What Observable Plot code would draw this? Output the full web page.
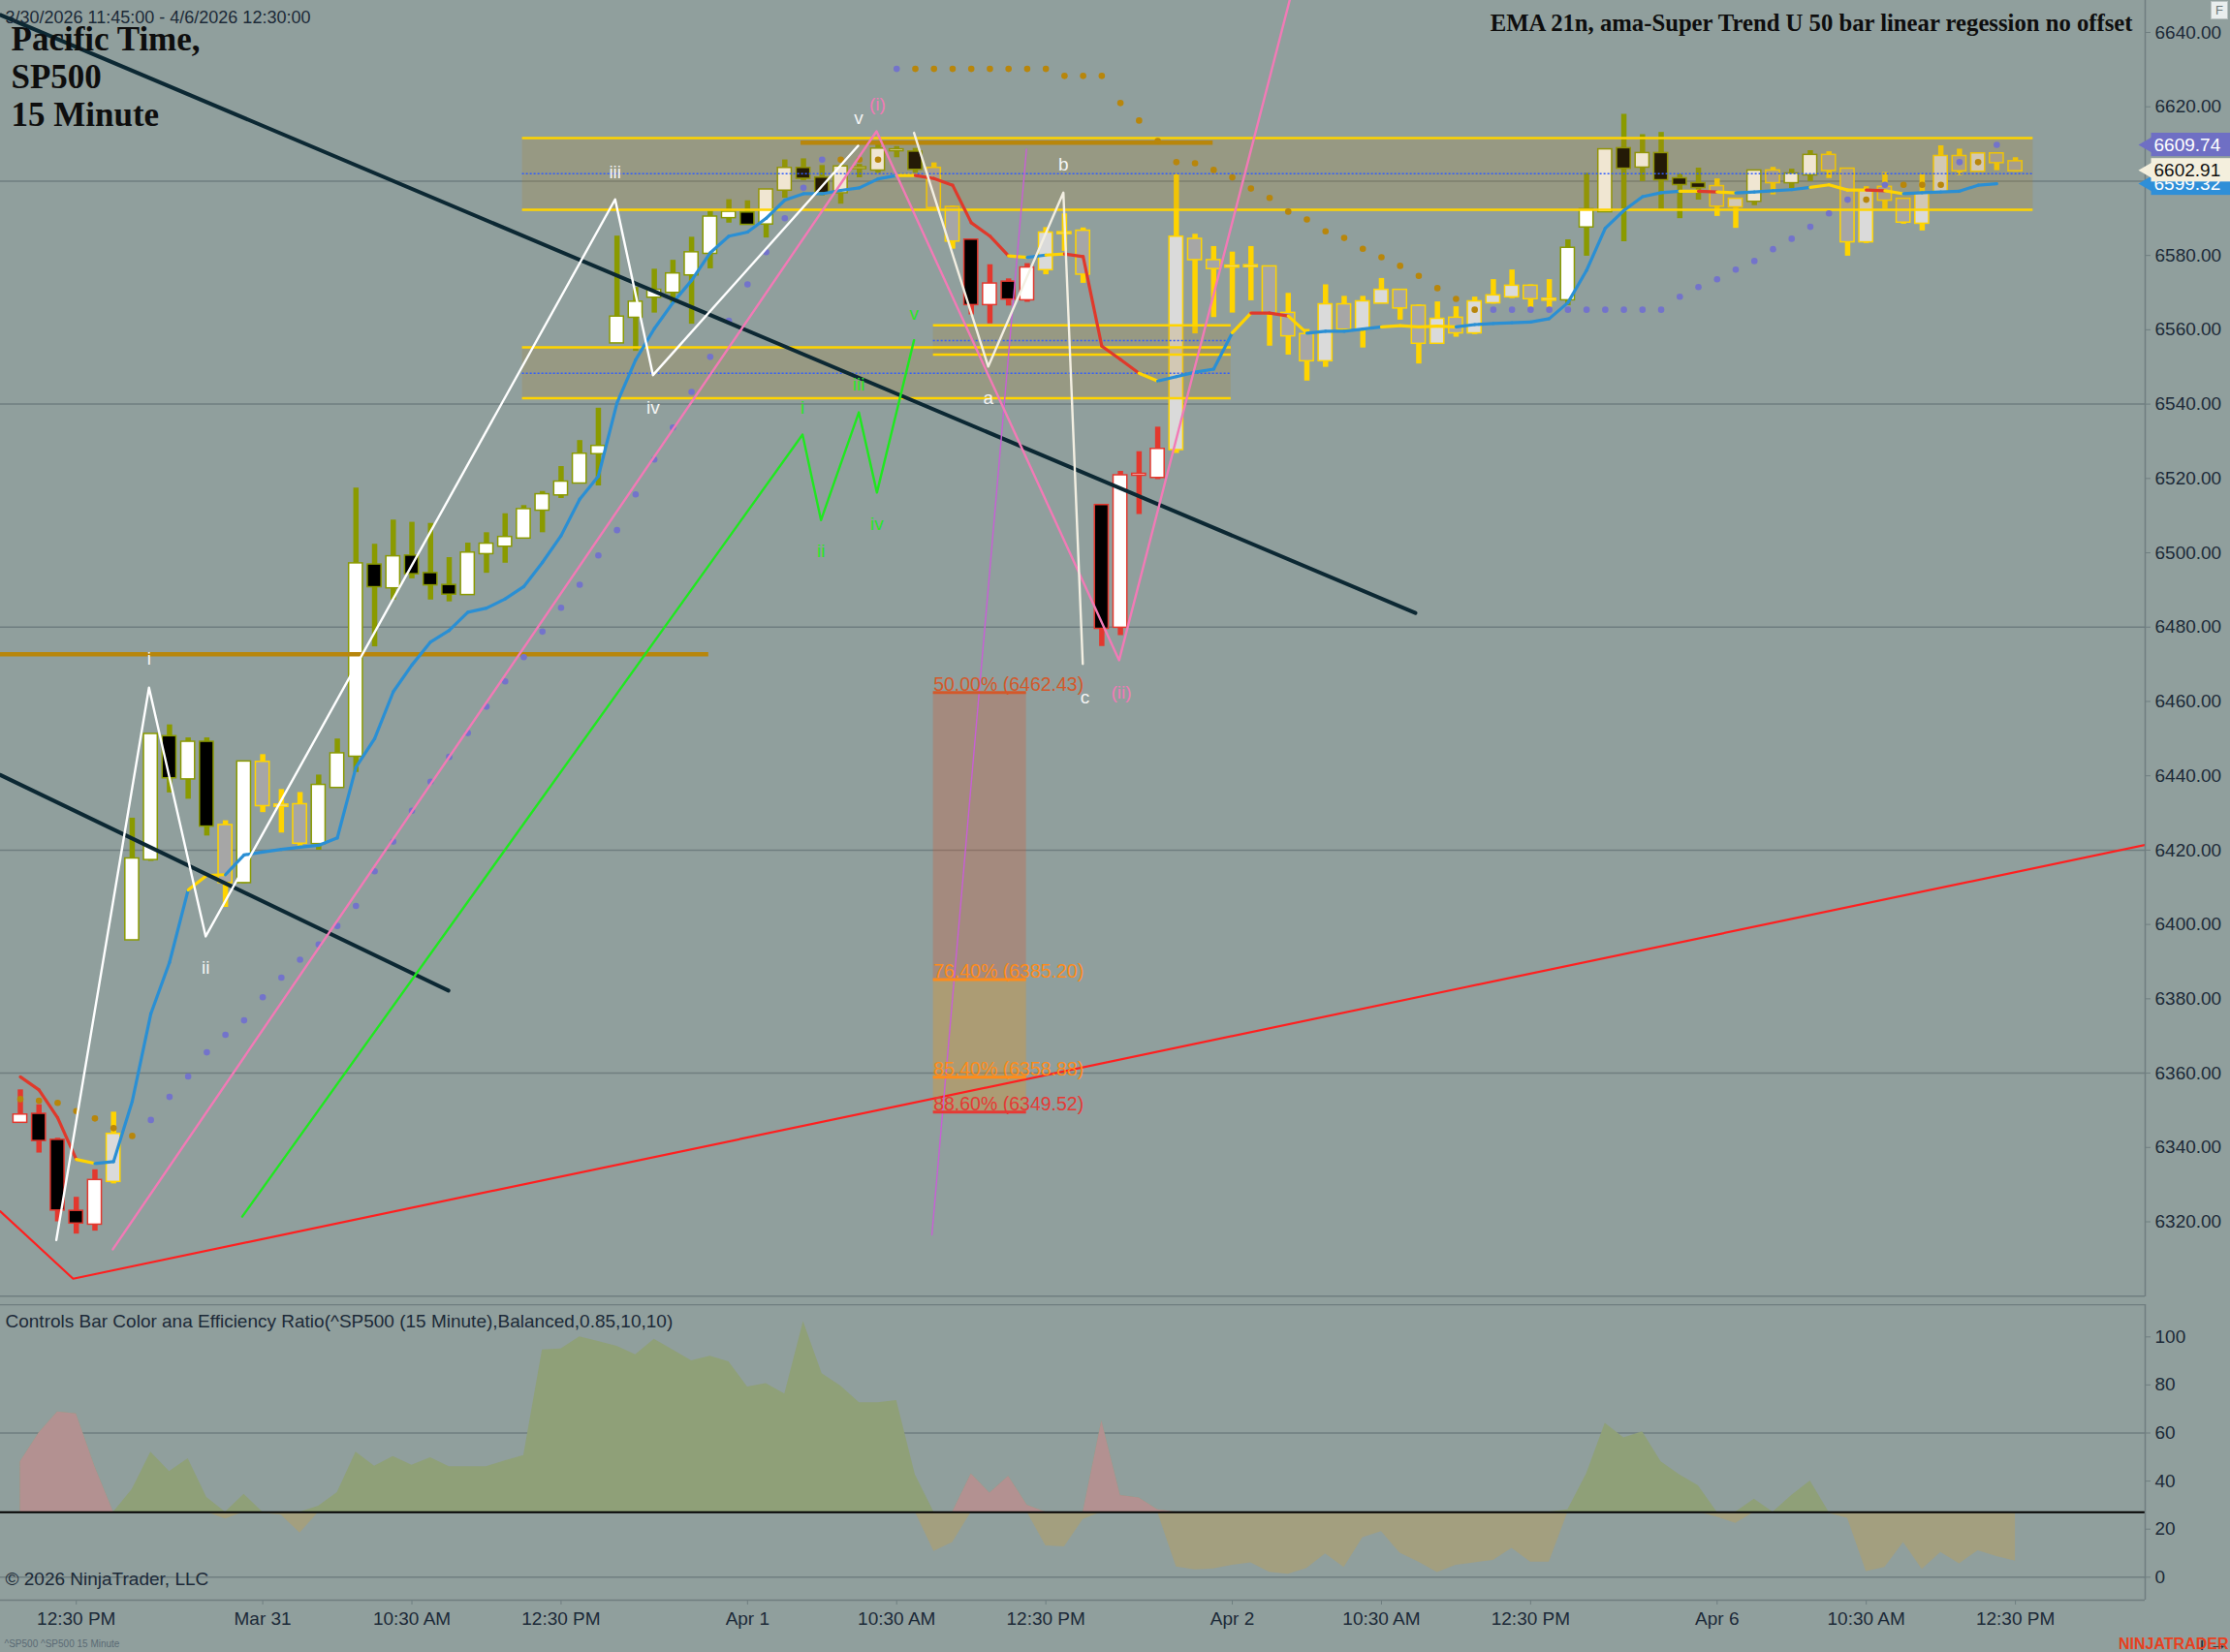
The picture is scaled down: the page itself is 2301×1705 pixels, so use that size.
<!DOCTYPE html>
<html><head><meta charset="utf-8">
<script src="https://cdn.jsdelivr.net/npm/d3@7"></script>
<script src="https://cdn.jsdelivr.net/npm/@observablehq/plot@0.6"></script>
<style>
html,body{margin:0;padding:0;background:#909f9d;}
#wrap{position:relative;width:2301px;height:1705px;overflow:hidden;background:#909f9d;}
#price{position:absolute;left:0;top:0;}
#ind{position:absolute;left:0;top:1346px;}
#fbox{position:absolute;left:2281px;top:1px;width:16px;height:17px;border:1px solid #b9c2c2;background:#e9eeee;color:#6b7779;font:13px "Liberation Sans",Arial,sans-serif;text-align:center;line-height:17px;}
</style></head><body>
<div id="wrap"><div id="price"></div><div id="ind"></div><div id="fbox">F</div></div>
<script>
// ---------------- DATA ----------------
// 15-minute bars, 3/30/2026 11:45 .. 4/6/2026 12:30 (Pacific), index 0..107
const opens = [6346.9,6348.8,6341.8,6322.7,6319.5,6331.0,6396.0,6417.6,6450.4,6439.3,
 6448.9,6426.5,6411.4,6443.5,6431.9,6432.1,6421.9,6437.0,6445.4,6496.6,
 6490.7,6499.0,6494.3,6491.1,6488.9,6499.9,6501.9,6504.1,6511.6,6515.7,
 6518.9,6526.8,6556.6,6563.5,6568.9,6570.2,6574.9,6580.7,6590.3,6591.3,
 6588.6,6597.7,6603.3,6600.7,6597.0,6603.5,6603.1,6608.3,6607.7,6603.3,
 6592.8,6584.0,6566.9,6572.7,6568.2,6576.3,6586.0,6586.4,6512.6,6480.1,
 6521.0,6520.4,6527.9,6584.2,6578.5,6577.0,6577.1,6576.8,6564.3,6558.6,
 6551.8,6566.6,6560.3,6567.3,6570.5,6566.2,6556.5,6563.0,6559.3,6567.4,
 6569.0,6571.6,6568.1,6568.2,6587.8,6591.9,6608.6,6603.9,6607.3,6600.5,
 6599.2,6598.4,6593.2,6594.7,6602.6,6599.7,6601.8,6606.8,6603.1,6583.8,
 6598.2,6595.0,6588.8,6597.3,6606.5,6602.8,6607.2,6605.1];
const highs = [6355.5,6351.5,6342.5,6326.6,6334.0,6349.5,6428.6,6451.0,6453.7,6450.2,
 6450.2,6427.9,6443.6,6445.7,6436.3,6435.5,6440.2,6449.9,6517.4,6502.3,
 6508.8,6508.2,6507.9,6498.7,6502.6,6505.4,6510.5,6512.7,6516.5,6523.2,
 6530.2,6538.9,6585.2,6571.4,6576.3,6578.7,6584.9,6591.9,6595.0,6594.7,
 6597.5,6605.7,6606.0,6604.2,6604.2,6604.5,6609.8,6609.3,6608.8,6604.9,
 6593.3,6584.0,6577.5,6573.7,6577.8,6587.5,6591.2,6587.4,6512.6,6521.9,
 6527.2,6533.8,6601.8,6585.7,6582.4,6580.9,6582.4,6576.9,6569.8,6560.1,
 6572.1,6569.0,6569.0,6573.8,6570.8,6566.7,6567.5,6566.2,6568.8,6573.5,
 6576.1,6572.1,6573.5,6584.2,6602.1,6608.3,6618.0,6612.5,6613.1,6601.9,
 6603.5,6600.6,6595.0,6602.9,6603.7,6603.2,6608.2,6607.9,6603.5,6598.5,
 6602.3,6595.0,6601.7,6609.5,6608.6,6607.6,6607.6,6606.3];
const lows = [6346.9,6338.5,6320.0,6316.7,6317.5,6330.2,6395.8,6417.0,6435.4,6433.7,
 6423.8,6404.6,6411.0,6430.1,6424.6,6421.1,6420.0,6437.0,6440.9,6474.7,
 6487.3,6493.0,6487.3,6486.8,6488.9,6494.5,6497.2,6504.1,6505.4,6514.6,
 6518.6,6518.0,6556.6,6554.2,6564.5,6567.1,6561.5,6576.4,6588.7,6588.5,
 6584.7,6595.4,6600.1,6596.0,6593.8,6600.9,6602.1,6606.3,6602.1,6593.0,
 6581.7,6564.0,6561.6,6566.4,6567.4,6574.8,6581.1,6572.5,6474.8,6477.7,
 6510.3,6519.7,6526.7,6558.9,6563.3,6564.5,6567.8,6555.6,6553.2,6546.2,
 6549.9,6560.0,6555.1,6567.1,6562.6,6550.8,6556.5,6558.0,6558.7,6566.9,
 6568.4,6566.0,6566.0,6566.5,6579.8,6591.7,6583.7,6599.9,6592.1,6589.9,
 6594.9,6590.5,6587.3,6593.4,6596.3,6598.0,6599.9,6600.7,6579.8,6583.2,
 6592.5,6588.4,6586.6,6597.3,6601.5,6602.8,6602.8,6602.4];
const closes = [6348.6,6342.0,6323.3,6319.8,6331.0,6343.4,6417.5,6451.0,6439.6,6448.9,
 6426.6,6411.4,6443.6,6432.1,6432.0,6422.0,6437.3,6445.8,6496.9,6491.0,
 6498.8,6494.5,6491.5,6489.0,6499.8,6502.2,6504.0,6511.5,6515.5,6518.9,
 6526.4,6528.5,6563.3,6567.3,6570.5,6574.9,6580.6,6590.2,6591.5,6588.5,
 6597.5,6603.3,6600.9,6597.0,6603.7,6603.5,6608.5,6608.3,6603.3,6593.0,
 6584.0,6566.9,6572.2,6568.4,6576.5,6585.9,6586.0,6575.1,6479.8,6520.6,
 6521.0,6527.7,6584.8,6579.0,6576.6,6577.0,6577.1,6564.5,6558.5,6551.8,
 6566.6,6560.3,6567.4,6570.5,6566.0,6556.5,6562.7,6559.3,6567.4,6569.0,
 6571.6,6568.5,6568.1,6581.8,6592.2,6608.3,6603.6,6607.3,6600.5,6599.2,
 6598.4,6593.4,6595.0,6602.6,6599.7,6601.8,6606.8,6603.0,6583.8,6597.3,
 6595.0,6589.1,6596.4,6606.5,6602.9,6607.2,6605.1,6602.91];
// bar colour regime from the efficiency-ratio indicator: r = down trend, g = up trend, y = neutral
const regime = ("rrrrrygggg"+"gygyyygggg"+"gggggggggg"+"gggggggggg"+"gggggggggy"+
 "yrrrryyyrr"+"rryyyyyyyy"+"yyyyyyyyyy"+"yyyggggggg"+"gyygyggyyy"+"yyyyyyyy").split("");
// EMA 21 (colored line); segment colour code for the segment ending at each bar
const emaVals = [6359.0,6355.5,6348.0,6336.8,6335.7,6336.2,6352.4,6376.0,6389.8,6409.3,
 6413.2,6413.4,6418.7,6419.5,6420.2,6420.8,6421.3,6423.3,6442.3,6450.0,
 6462.6,6469.8,6476.0,6479.1,6484.0,6485.1,6487.6,6490.9,6497.4,6504.6,
 6514.4,6520.6,6540.3,6551.9,6560.3,6567.3,6573.3,6580.7,6585.2,6586.3,
 6590.0,6594.9,6596.6,6596.6,6597.5,6598.2,6600.6,6601.5,6601.5,6600.7,
 6598.9,6588.8,6585.2,6579.9,6579.5,6580.1,6580.4,6579.7,6555.6,6552.0,
 6548.3,6546.2,6547.4,6548.6,6549.4,6559.2,6564.5,6564.5,6563.7,6559.1,
 6559.6,6559.6,6560.2,6560.8,6561.1,6560.8,6561.0,6560.8,6561.4,6561.7,
 6561.9,6562.1,6563.0,6567.3,6576.0,6587.3,6592.1,6595.8,6596.9,6597.3,
 6597.3,6597.1,6596.8,6597.1,6597.4,6597.7,6598.3,6599.0,6597.6,6597.6,
 6597.4,6596.6,6596.9,6597.1,6597.3,6598.9,6599.32,null];
const emaSeg = ("-rrrybbbbb"+"yybbbbbbbb"+"bbbbbbbbbb"+"bbbbbbbbbb"+"bbbbbbbbyr"+
 "rrrrybyrrr"+"rybbbbyrry"+"bbbbyyyybb"+"bbbbbbbbbb"+"yrybbbbyyy"+"rybbbbb-").split("");
// Super trend stop dots: u = long stop (purple), d = short stop (brown)
const stops = [6353.0,6352.6,6352.0,6349.8,6347.8,6345.2,6343.1,6347.4,6353.6,6359.1,
 6365.6,6370.3,6374.2,6380.4,6385.7,6390.5,6394.6,6399.6,6405.0,6414.3,
 6422.3,6430.6,6438.4,6445.1,6451.5,6458.6,6465.4,6471.9,6478.8,6485.2,
 6491.4,6499.3,6506.1,6515.7,6525.1,6533.7,6543.3,6552.7,6562.4,6572.2,
 6580.9,6590.0,6598.2,6605.8,6605.8,6605.8,6605.8,6630.2,6630.2,6630.2,
 6630.2,6630.2,6630.2,6630.2,6630.2,6630.2,6628.3,6628.3,6628.3,6621.0,
 6616.3,6610.8,6605.1,6604.8,6603.0,6601.0,6598.0,6595.5,6591.8,6589.7,
 6586.5,6584.7,6581.8,6579.5,6577.2,6574.5,6571.2,6568.3,6565.4,6565.4,
 6565.4,6565.4,6565.4,6565.4,6565.4,6565.4,6565.4,6565.4,6565.4,6568.9,
 6571.5,6573.6,6576.2,6578.5,6581.7,6584.5,6587.7,6591.3,6595.0,6595.0,
 6599.0,6599.0,6599.0,6599.0,6605.1,6605.1,6609.74,null];
const stopSide = ("ddddddduuu"+"uuuuuuuuuu"+"uuuuuuuuuu"+"uuuuuuuuuu"+"uuuudddudd"+
 "dddddddddd"+"dddddddddd"+"dddddddddu"+"uuuuuuuuuu"+"uuuuuuuuud"+"udddudu-").split("");
// Efficiency ratio (lower panel)
const er = [48,60,68.8,68,46,26.8,36.5,52,44,49.3,
 33.2,24.2,34.5,26.6,25.8,18.4,29.6,35.2,52,46.2,
 50.2,46.6,49.7,46,46,46,48.4,50.6,94.6,95,
 100,98.1,96.1,92.6,99,94.6,90,92,89.6,79.2,
 80.6,76.2,106.4,84.7,79.6,72.6,72.6,73.5,42.6,10.7,
 14.4,43,35,42,30,13,12.6,24,65,34,
 33,28,4.3,3,3.4,5,6,2,1.2,3.6,
 9.7,4,16.4,19,10,6.3,1.9,5,6,7,
 12,6.3,6.3,28,43,64,58,60.5,48,42.6,
 38,25,22.4,32.5,26.7,34,40,26.5,24.5,2.3,
 4,14.4,3.2,10.3,5.6,11,8.6,6.7];
const erThreshold = 27;
// axis ticks (6600.00 is hidden behind the last-value labels in the reference)
const priceTicks = [6320,6340,6360,6380,6400,6420,6440,6460,6480,6500,6520,6540,6560,6580,6620,6640];
const priceGrid = [6300,6360,6420,6480,6540,6600];
const erTicks = [0,20,40,60,80,100];
const erGrid = [0,60];
const timeTickBars = [3,13,21,29,39,47,55,65,73,81,91,99,107];
const timeTickLabels = ["12:30 PM","Mar 31","10:30 AM","12:30 PM","Apr 1","10:30 AM","12:30 PM","Apr 2","10:30 AM","12:30 PM","Apr 6","10:30 AM","12:30 PM"];
// drawing objects, anchor points in (bar index, price)
const trendRed = [{i:-1.07,p:6322.8},{i:2.83,p:6304.7},{i:113.96,p:6421.4}];
const trendNavy1 = [{i:-1.07,p:6644.7},{i:74.82,p:6483.8}];
const trendNavy2 = [{i:-1.07,p:6440.2},{i:22.96,p:6382.2}];
const trendMagenta = [{i:48.89,p:6316.5},{i:53.96,p:6608.6}];
const wavePink = [{i:4.96,p:6312.6},{i:45.92,p:6613.4},{i:58.93,p:6471.1},{i:68.66,p:6660}];
const waveGreen = [{i:11.9,p:6321.4},{i:41.95,p:6531.8},{i:42.94,p:6508.8},{i:44.97,p:6537.8},{i:45.94,p:6516.2},{i:47.93,p:6557.2}];
const waveWhiteA = [{i:1.93,p:6315.1},{i:6.90,p:6463.7},{i:9.94,p:6396.8},{i:31.90,p:6595.1},{i:33.93,p:6547.8},{i:44.93,p:6609.5}];
const waveWhiteB = [{i:47.93,p:6613.0},{i:51.91,p:6550.1},{i:55.94,p:6596.9},{i:56.98,p:6470.1}];
const whiteLabels = [{t:"i",i:6.90,p:6471.4},{t:"ii",i:9.94,p:6388.4},{t:"iii",i:31.90,p:6602.3},{t:"iv",i:33.93,p:6539.0},{t:"v",i:44.96,p:6616.9},{t:"a",i:51.91,p:6541.6},{t:"b",i:55.94,p:6604.4},{t:"c",i:57.1,p:6461.0}];
const pinkLabels = [{t:"(i)",i:45.97,p:6620.6},{t:"(ii)",i:59.05,p:6462.3}];
const greenLabels = [{t:"i",i:41.95,p:6539.0},{t:"ii",i:42.94,p:6500.4},{t:"iii",i:44.97,p:6545.3},{t:"iv",i:45.94,p:6507.6},{t:"v",i:47.93,p:6564.4}];
const zones = [{x1:26.93,x2:107.95,lo:6592.3,hi:6611.6,mid:6602.0},{x1:26.93,x2:64.94,lo:6541.6,hi:6555.3,mid:6548.3},{x1:48.97,x2:64.94,lo:6553.3,hi:6561.2,mid:6557.1}];
const goldLines = [{x1:-1.07,x2:36.92,p:6472.7},{x1:41.87,x2:63.97,p:6610.35}];
const fibX = [48.97,53.96];
const fibLevels = [{pct:50.0,val:6462.43},{pct:76.4,val:6385.20},{pct:85.4,val:6358.88},{pct:88.6,val:6349.52}];
const lastValues = [{name:"ema",v:6599.32},{name:"stop",v:6609.74},{name:"close",v:6602.91}];

// ---------------- STYLE ----------------
const GRID = "#6f7e80", TXT = "#1c2a38";
const regCol = {r:"#e3382e", g:"#8a9a00", y:"#ffd400"};
const emaCol = {r:"#e0392b", y:"#ffd400", b:"#2a8fd4"};
const fibCol = {50:"#d4582a", 76.4:"#ff8c1a", 85.4:"#ff8c1a", 88.6:"#e53935"};
const lastStyle = {ema:{bg:"#2f8fd8",fg:"#ffffff"}, stop:{bg:"#6f6fc4",fg:"#ffffff"}, close:{bg:"#f4efdd",fg:"#111111"}};
const xDom = [-1.0655, 113.96];
const yDom = [6299.8, 6648.6];
const font = "Liberation Sans, Arial, sans-serif";
const serif = "Liberation Serif, Times New Roman, serif";

const bars = opens.map((o, i) => ({i, o, h: highs[i], l: lows[i], c: closes[i], reg: regime[i]}));
const bodyFill = d => d.reg === "y" ? (d.c >= d.o ? "#dadada" : "#a6a6a6") : (d.c >= d.o ? "#ffffff" : "#000000");
const emaLinks = [];
for (let i = 1; i < emaVals.length; i++) {
  if (emaVals[i] == null || emaVals[i-1] == null) continue;
  emaLinks.push({i0: i-1, i1: i, p0: emaVals[i-1], p1: emaVals[i], c: emaSeg[i]});
}
const stopDots = stops.map((v, i) => ({i, v, s: stopSide[i]})).filter(d => d.v != null);
const fibBands = fibLevels.slice(0, -1).map((f, k) => ({top: f.val, bot: fibLevels[k+1].val, pct: f.pct}));

const lineMark = (pts, stroke, w) => Plot.line(pts, {x: "i", y: "p", stroke, strokeWidth: w, clip: true, strokeLinejoin: "round"});

const lastMarks = lastValues.flatMap(d => {
  const st = lastStyle[d.name];
  return [
    Plot.rect([d], {x1: () => 114.3, x2: () => 118.7, y1: () => d.v - 3.15, y2: () => d.v + 3.15, fill: st.bg}),
    Plot.dot([d], {x: () => 114.12, y: () => d.v, symbol: "triangle", r: 6.5, rotate: -90, fill: st.bg, stroke: "none"}),
    Plot.text([d], {x: () => 114.43, y: () => d.v, text: () => d.v.toFixed(2), textAnchor: "start", fill: st.fg, fontSize: 19})
  ];
});

const price = Plot.plot({
  width: 2301, height: 1346, marginLeft: 0, marginRight: 88, marginTop: 0, marginBottom: 8,
  x: {domain: xDom, axis: null},
  y: {domain: yDom, axis: null},
  style: {background: "transparent", fontFamily: font, fontSize: "19px", color: TXT},
  marks: [
    Plot.ruleY(priceGrid, {stroke: GRID, strokeWidth: 1.5}),
    // fibonacci retracement box
    Plot.rect(fibBands, {x1: () => fibX[0], x2: () => fibX[1], y1: "top", y2: "bot",
      fill: d => d.pct === 50 ? "rgb(215,85,45)" : "rgb(255,145,0)", fillOpacity: d => d.pct === 50 ? 0.28 : 0.26}),
    // candles
    Plot.ruleX(bars, {x: "i", y1: "l", y2: "h", stroke: d => regCol[d.reg], strokeWidth: 5.5}),
    Plot.rect(bars, {x1: d => d.i - 0.37, x2: d => d.i + 0.37, y1: "o", y2: "c", fill: bodyFill,
      stroke: d => regCol[d.reg], strokeWidth: 1.5, insetTop: -1, insetBottom: -1}),
    // zones
    Plot.rect(zones, {x1: "x1", x2: "x2", y1: "lo", y2: "hi", fill: "rgb(180,130,30)", fillOpacity: 0.2}),
    Plot.ruleY(zones, {x1: "x1", x2: "x2", y: "hi", stroke: "#ffd400", strokeWidth: 2.5}),
    Plot.ruleY(zones, {x1: "x1", x2: "x2", y: "lo", stroke: "#ffd400", strokeWidth: 2.5}),
    Plot.ruleY(zones, {x1: "x1", x2: "x2", y: "mid", stroke: "#2f5cff", strokeWidth: 1.3, strokeDasharray: "2,2"}),
    Plot.ruleY(goldLines, {x1: "x1", x2: "x2", y: "p", stroke: "#b8860b", strokeWidth: 4.5}),
    // EMA & stops
    Plot.link(emaLinks, {x1: "i0", x2: "i1", y1: "p0", y2: "p1", stroke: d => emaCol[d.c], strokeWidth: 3.2, strokeLinecap: "round"}),
    Plot.dot(stopDots, {x: "i", y: "v", r: 3.3, fill: d => d.s === "u" ? "#7373cb" : "#b8860b", stroke: "none"}),
    // trend lines and waves
    lineMark(trendRed, "#ff1f1f", 2.2),
    lineMark(trendNavy1, "#0c2833", 4),
    lineMark(trendNavy2, "#0c2833", 4),
    lineMark(trendMagenta, "#c85ed6", 1.4),
    lineMark(wavePink, "#f27ab6", 2.4),
    lineMark(waveGreen, "#1fe81f", 2.4),
    lineMark(waveWhiteA, "#ffffff", 2.4),
    lineMark(waveWhiteB, "#f3efe2", 2.4),
    Plot.text(whiteLabels, {x: "i", y: "p", text: "t", fill: "#f4f4f4", fontSize: 19}),
    Plot.text(pinkLabels, {x: "i", y: "p", text: "t", fill: "#f27ab6", fontSize: 19}),
    Plot.text(greenLabels, {x: "i", y: "p", text: "t", fill: "#27e627", fontSize: 19}),
    // fib levels
    Plot.ruleY(fibLevels, {x1: () => fibX[0], x2: () => fibX[1], y: "val", stroke: d => fibCol[d.pct], strokeWidth: 3}),
    Plot.text(fibLevels, {x: () => fibX[0], y: "val", text: d => `${d.pct.toFixed(2)}% (${d.val.toFixed(2)})`,
      fill: d => fibCol[d.pct], textAnchor: "start", lineAnchor: "bottom", dy: -2, fontSize: 19.5}),
    // right axis
    Plot.ruleX([xDom[1]], {stroke: GRID, strokeWidth: 1.5}),
    Plot.axisY(priceTicks, {anchor: "right", tickFormat: d => d.toFixed(2), tickSize: 5, tickPadding: 5, fontSize: 19, stroke: GRID, fill: TXT}),
    ...lastMarks,
    // titles
    Plot.text(["3/30/2026 11:45:00 - 4/6/2026 12:30:00"], {frameAnchor: "top-left", dx: 5, dy: 23, lineAnchor: "bottom", textAnchor: "start", fontSize: 18, fill: TXT}),
    Plot.text(["Pacific Time,"], {frameAnchor: "top-left", dx: 11, dy: 51, lineAnchor: "bottom", textAnchor: "start", fontSize: 35, fontFamily: serif, fontWeight: "bold", fill: "#0e0e0e"}),
    Plot.text(["SP500"], {frameAnchor: "top-left", dx: 11, dy: 90.5, lineAnchor: "bottom", textAnchor: "start", fontSize: 35, fontFamily: serif, fontWeight: "bold", fill: "#0e0e0e"}),
    Plot.text(["15 Minute"], {frameAnchor: "top-left", dx: 11, dy: 129.5, lineAnchor: "bottom", textAnchor: "start", fontSize: 35, fontFamily: serif, fontWeight: "bold", fill: "#0e0e0e"}),
    Plot.text(["EMA 21n, ama-Super Trend U 50 bar linear regession no offset"], {frameAnchor: "top-left", dx: 2200, dy: 31, lineAnchor: "bottom", textAnchor: "end", fontSize: 24.7, fontFamily: serif, fontWeight: "bold", fill: "#0e0e0e"})
  ]
});
document.getElementById("price").appendChild(price);

// ---------------- lower panel ----------------
const ind = er.map((v, i) => ({i, v, reg: regime[i]}));
const isRed = i => regime[i] === "r" || regime[i-1] === "r" || regime[i+1] === "r";
const tickLabel = new Map(timeTickBars.map((b, k) => [b, timeTickLabels[k]]));
const erDom = [-9.56, 113.43];

const lower = Plot.plot({
  width: 2301, height: 359, marginLeft: 0, marginRight: 88, marginTop: 0, marginBottom: 54,
  x: {domain: xDom, axis: null},
  y: {domain: erDom, axis: null},
  style: {background: "transparent", fontFamily: font, fontSize: "19px", color: TXT},
  marks: [
    Plot.ruleY(erGrid, {stroke: GRID, strokeWidth: 1.5}),
    Plot.ruleY([erDom[1]], {stroke: GRID, strokeWidth: 1.5}),
    Plot.ruleY([erDom[0]], {stroke: GRID, strokeWidth: 1.5}),
    Plot.areaY(ind, {x: "i", y1: () => erThreshold, y2: d => Math.max(d.v, erThreshold), fill: "#8fa078"}),
    Plot.areaY(ind, {x: "i", y1: () => erThreshold, y2: d => isRed(d.i) ? Math.max(d.v, erThreshold) : NaN, fill: "#b39191"}),
    Plot.areaY(ind, {x: "i", y1: d => Math.min(d.v, erThreshold), y2: () => erThreshold, fill: "#a39f7f"}),
    Plot.ruleY([erThreshold], {stroke: "#000000", strokeWidth: 2}),
    Plot.ruleX([xDom[1]], {stroke: GRID, strokeWidth: 1.5}),
    Plot.axisY(erTicks, {anchor: "right", tickSize: 5, tickPadding: 5, fontSize: 19, stroke: GRID, fill: TXT}),
    Plot.axisX(timeTickBars, {anchor: "bottom", tickFormat: d => tickLabel.get(d), tickSize: 5, tickPadding: 7, fontSize: 19, stroke: GRID, fill: TXT}),
    Plot.text(["Controls Bar Color ana Efficiency Ratio(^SP500 (15 Minute),Balanced,0.85,10,10)"], {frameAnchor: "top-left", dx: 5, dy: 23, lineAnchor: "bottom", textAnchor: "start", fontSize: 19, fill: TXT}),
    Plot.text(["© 2026 NinjaTrader, LLC"], {frameAnchor: "top-left", dx: 5, dy: 289, lineAnchor: "bottom", textAnchor: "start", fontSize: 19, fill: TXT}),
    Plot.text(["^SP500 ^SP500 15 Minute"], {frameAnchor: "bottom-left", dx: 4, dy: 48, lineAnchor: "bottom", textAnchor: "start", fontSize: 10, fill: "#5a6a74"}),
    Plot.text(["NINJATRADER"], {frameAnchor: "bottom-right", dx: 86, dy: 50, lineAnchor: "bottom", textAnchor: "end", fontSize: 16, fontWeight: "bold", fill: "#e8401f"})
  ]
});
document.getElementById("ind").appendChild(lower);
</script>
</body></html>
